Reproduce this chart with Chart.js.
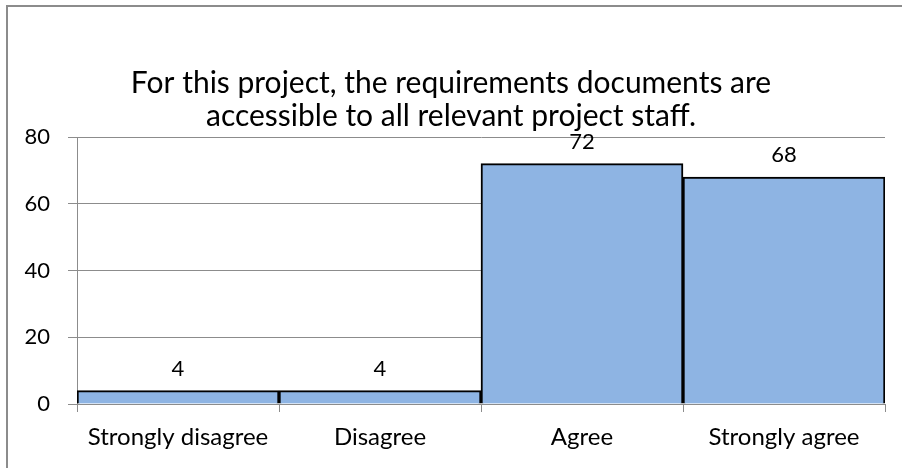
<!DOCTYPE html>
<html>
<head>
<meta charset="utf-8">
<script src="https://cdn.jsdelivr.net/npm/chart.js@4.4.1/dist/chart.umd.min.js"></script>
<style>
  html, body { margin: 0; padding: 0; background: #fff; }
  #wrap { position: relative; width: 902px; height: 468px; }
</style>
</head>
<body>
<div id="wrap"><canvas id="surveyChart" width="902" height="468"></canvas></div>
<script>
const categories = ['Strongly disagree', 'Disagree', 'Agree', 'Strongly agree'];
const responses = [4, 4, 72, 68];
const yTicks = [0, 20, 40, 60, 80];
const titleLines = ['For this project, the requirements documents are', 'accessible to all relevant project staff.'];

const FONT = 'Lato, "Open Sans", sans-serif';

// frame line on left / top edge like the pasted excel image
const framePlugin = {
  id: 'frame',
  beforeDraw(chart) {
    const c = chart.ctx;
    c.save();
    c.fillStyle = '#fff';
    c.fillRect(0, 0, chart.width, chart.height);
    c.strokeStyle = '#8c8c8c';
    c.lineWidth = 2;
    c.beginPath();
    c.moveTo(7, chart.height);
    c.lineTo(7, 6);
    c.lineTo(chart.width, 6);
    c.stroke();
    c.restore();
  }
};

// value labels above each bar
const valueLabels = {
  id: 'valueLabels',
  afterDatasetsDraw(chart) {
    const c = chart.ctx;
    const meta = chart.getDatasetMeta(0);
    c.save();
    c.font = '22px ' + FONT;
    c.fillStyle = '#000';
    c.textAlign = 'center';
    c.textBaseline = 'middle';
    meta.data.forEach((bar, i) => {
      c.fillText(String(responses[i]), bar.x, bar.y - 22);
    });
    c.restore();
  }
};

const ctx = document.getElementById('surveyChart');
new Chart(ctx, {
  type: 'bar',
  data: {
    labels: categories,
    datasets: [{
      data: responses,
      backgroundColor: '#8eb4e3',
      borderColor: '#000',
      borderWidth: 2,
      barPercentage: 1,
      categoryPercentage: 1
    }]
  },
  options: {
    responsive: false,
    animation: false,
    devicePixelRatio: 1,
    layout: {
      padding: { left: 17, right: 17, top: 0, bottom: 0 }
    },
    plugins: {
      legend: { display: false },
      tooltip: { enabled: false },
      title: {
        display: true,
        text: titleLines,
        color: '#000',
        font: { family: FONT, size: 30, weight: 'normal', lineHeight: 1.1 },
        padding: { top: 67, bottom: 4 }
      }
    },
    scales: {
      y: {
        min: 0,
        max: 80,
        afterBuildTicks(scale) {
          scale.ticks = yTicks.map(v => ({ value: v }));
        },
        afterFit(scale) { scale.width = 60; },
        grid: { color: '#8c8c8c', lineWidth: 1, tickLength: 9 },
        border: { color: '#8c8c8c', width: 1 },
        ticks: { color: '#000', padding: 18, font: { family: FONT, size: 22 } }
      },
      x: {
        afterFit(scale) { scale.height = 64; },
        grid: { offset: true, drawOnChartArea: false, color: '#8c8c8c', tickLength: 8 },
        border: { color: '#8c8c8c', width: 1 },
        ticks: { color: '#000', padding: 11, font: { family: FONT, size: 24 } }
      }
    }
  },
  plugins: [framePlugin, valueLabels]
});
</script>
</body>
</html>
